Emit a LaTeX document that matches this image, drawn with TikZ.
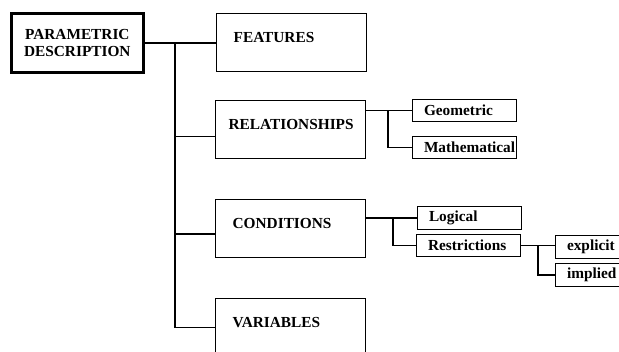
\documentclass[tikz,border=0pt]{standalone}
\usepackage{fontspec}
\setmainfont{Liberation Serif}
\usepackage{tikz}
\usetikzlibrary{calc}
\hfuzz=30pt

\begin{document}
\begin{tikzpicture}[x=0.75pt,y=0.75pt,yscale=-1,xscale=1,
  lbl/.style={font=\fontsize{11.5}{12.75}\selectfont\bfseries},
  rootbox/.style={lbl,draw,line width=2pt,anchor=north west,align=center,minimum width=99pt,minimum height=44.25pt},
  bigbox/.style={lbl,draw,line width=1pt,anchor=north west,align=left,inner xsep=12.75pt,text width=87pt,minimum height=43.5pt,text height=5pt,text depth=5pt},
  smallbox/.style={lbl,draw,line width=1pt,anchor=north west,align=left,inner xsep=8.5pt,text width=61pt,minimum height=16.5pt},
  link/.style={line width=1.2pt}]
\clip (0,0) rectangle (619,351);

%root
\node[rootbox] (root) at (10,12) {PARAMETRIC\\DESCRIPTION};

%main boxes
\node[bigbox] (feat) at (216,13) {FEATURES};
\node[bigbox,inner xsep=9.75pt,text width=93pt] (rel) at (215,100) {RELATIONSHIPS};
\node[bigbox] (cond) at (215,199) {CONDITIONS};
\node[bigbox] (var) at (215,298) {VARIABLES};

%sub boxes
\node[smallbox] (geo) at (412,99) {Geometric};
\node[smallbox] (math) at (412,136) {Mathematical};
\node[smallbox] (logic) at (417,206) {Logical};
\node[smallbox] (restr) at (416,234) {Restrictions};
\node[smallbox] (expl) at (555,235) {explicit};
\node[smallbox] (impl) at (555,263) {implied};

%trunk
\coordinate (trunk) at (175,0);
\coordinate (relin) at ([yshift=5pt]rel.west);
\coordinate (condin) at ([yshift=4pt]cond.west);
\draw[link] (root.east) -- (root.east -| feat.west);
\draw[link] (trunk |- root.east) |- (var.west);
\draw[link] (trunk |- relin) -- (relin);
\draw[link] (trunk |- condin) -- (condin);

%relationships
\coordinate (relfork) at (388,0);
\draw[link] (rel.east |- geo.west) -- (geo.west);
\draw[link] (relfork |- geo.west) |- (math.west);

%conditions
\coordinate (condfork) at (393,0);
\draw[link] (cond.east |- logic.west) -- (logic.west);
\draw[link] (condfork |- logic.west) |- (restr.west);

%restrictions
\coordinate (restrfork) at (538,0);
\draw[link] (restr.east) -- (restr.east -| expl.west);
\draw[link] (restrfork |- restr.east) |- (impl.west);

\end{tikzpicture}
\end{document}
